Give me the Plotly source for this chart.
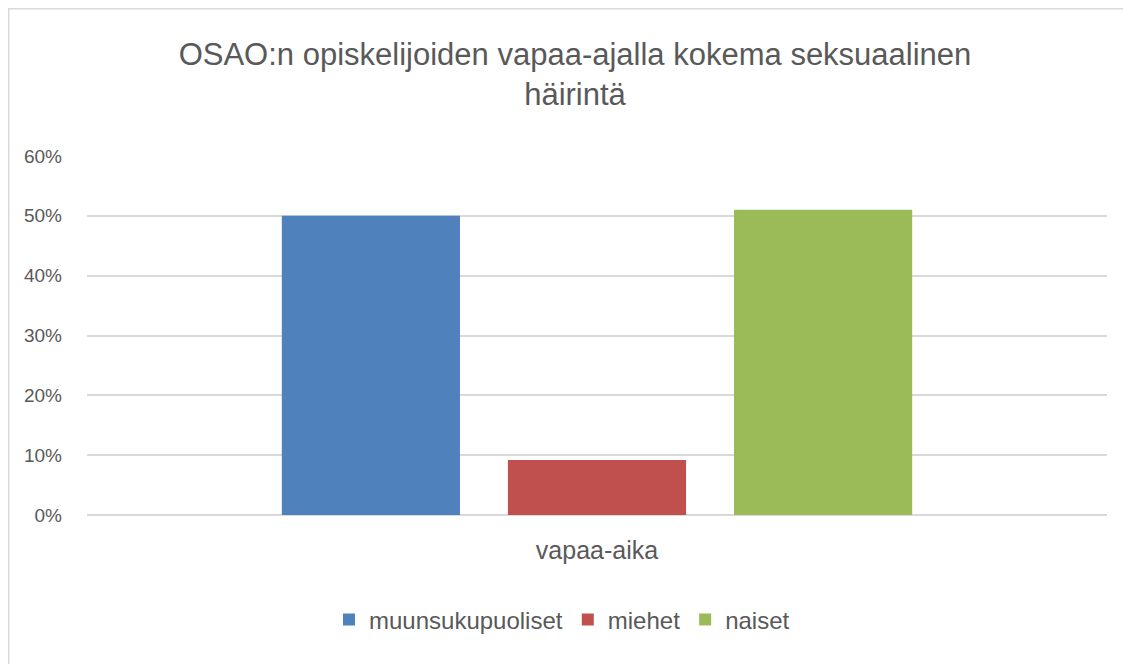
import plotly.graph_objects as go

categories = ["vapaa-aika"]
series_names = ["muunsukupuoliset", "miehet", "naiset"]
series_values = [[0.50], [0.092], [0.51]]
colors = ["#4F81BD", "#C0504D", "#9BBB59"]
y_ticks = [0, 0.1, 0.2, 0.3, 0.4, 0.5, 0.6]

# page body has an 8px margin, so figure coords = screen coords - 8
OFF = 8
W, H = 1131, 664
L, R, T, B = 87 - OFF, 1107 - OFF, 156 - OFF, 515 - OFF

FONT = "Liberation Sans, Arial, sans-serif"
TXT = "#595959"

fig = go.Figure()
for name, vals, c in zip(series_names, series_values, colors):
    fig.add_trace(go.Bar(x=categories, y=vals, name=name, marker=dict(color=c, line=dict(width=0))))

def px_x(p):
    return (p - L) / (R - L)

def px_y(p):
    return (B - p) / (B - T)

fig.update_layout(
    width=W, height=H,
    margin=dict(l=L, r=W - R, t=T, b=H - B, autoexpand=False),
    paper_bgcolor="white", plot_bgcolor="white",
    barmode="group", bargap=0.335, bargroupgap=0.212,
    font=dict(family=FONT, color=TXT),
    title=dict(
        text="OSAO:n opiskelijoiden vapaa-ajalla kokema seksuaalinen<br>häirintä",
        x=(575 - OFF) / W, xref="container", xanchor="center",
        y=1 - 57 / H, yref="container", yanchor="top",
        font=dict(family=FONT, size=31, color=TXT),
    ),
    xaxis=dict(
        showgrid=False, showline=False, zeroline=False, ticks="",
        tickfont=dict(family=FONT, size=25, color=TXT),
        ticklabelstandoff=18,
    ),
    yaxis=dict(
        range=[0, 0.6], tickvals=y_ticks, tickformat=".0%",
        showgrid=True, gridcolor="#d9d9d9", gridwidth=1.5,
        zeroline=True, zerolinecolor="#d9d9d9", zerolinewidth=1.5,
        showline=False, ticks="",
        tickfont=dict(family=FONT, size=19, color=TXT),
        ticklabelstandoff=24,
    ),
    legend=dict(
        orientation="h", x=(562 - OFF) / W, xref="container", xanchor="center",
        y=1 - (620 - OFF) / H, yref="container", yanchor="middle",
        font=dict(family=FONT, size=24, color=TXT),
        traceorder="normal",
    ),
    shapes=[
        dict(type="line", xref="paper", yref="paper",
             x0=px_x(0), x1=px_x(W + 5), y0=px_y(0.75), y1=px_y(0.75),
             line=dict(color="#d9d9d9", width=1.5)),
        dict(type="line", xref="paper", yref="paper",
             x0=px_x(0.75), x1=px_x(0.75), y0=px_y(0), y1=px_y(H + 5),
             line=dict(color="#d9d9d9", width=1.5)),
    ],
)

fig.write_html("out.html")
